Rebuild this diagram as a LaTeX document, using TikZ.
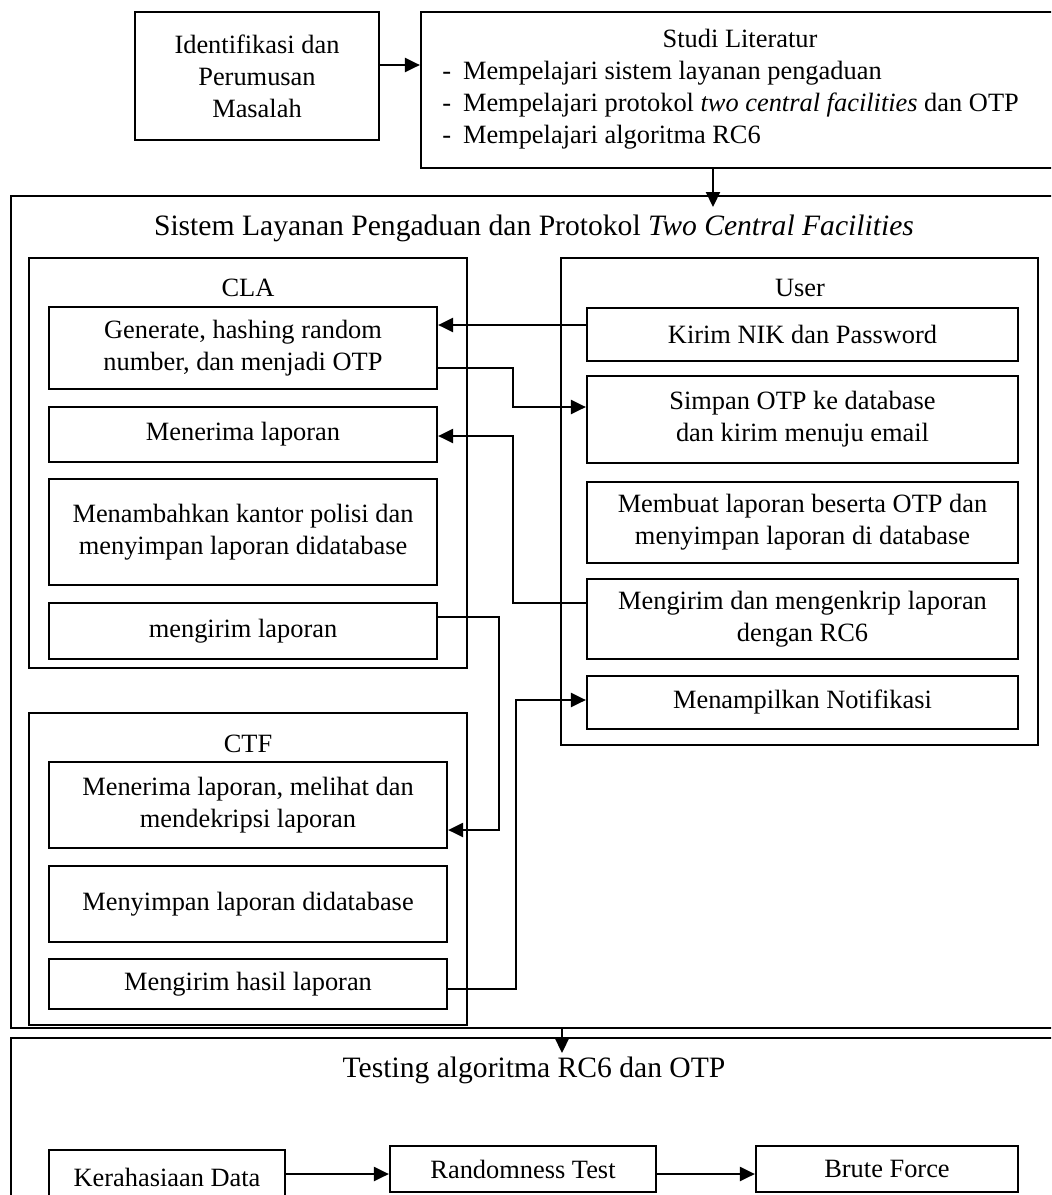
\documentclass[tikz,border=0pt]{standalone}
\usepackage{fontspec}
\setmainfont{Liberation Serif}
\usetikzlibrary{arrows.meta}
\begin{document}
\begin{tikzpicture}[x=0.5pt,y=-0.5pt,
  txt/.style={font=\fontsize{13.2}{16}\selectfont},
  bigtxt/.style={font=\fontsize{14.8}{18}\selectfont},
  % rectangle given by its corners (x1,y1) and (x2,y2)
  spot/.style n args={4}{minimum width={(#3-#1)*0.5pt}, minimum height={(#4-#2)*0.5pt},
    at={({(#1+#3)/2},{(#2+#4)/2})}},
  box/.style={draw, line width=1.1pt, inner sep=0pt, align=center, txt},
  frame/.style={draw, line width=1.1pt, inner sep=0pt},
  lbl/.style={txt, inner sep=0pt, anchor=base},
  arr/.style={line width=1.1pt, -{Triangle[length=7.5pt,width=7pt]}}]

\useasboundingbox (0,0) rectangle (1051,1195);
\clip (0,0) rectangle (1051,1195);

% --- problem statement and literature study ---
\node[box, spot={135}{12}{379}{140}] (ident) {Identifikasi dan\\Perumusan\\Masalah};
\node[frame, spot={421}{12}{1070}{168}] (studi) {};
\node[lbl] (studiT) at (740,47) {Studi Literatur};
\node[lbl, anchor=base west] (studiA) at (442,79) {-\hspace{0.45em}Mempelajari sistem layanan pengaduan};
\node[lbl, anchor=base west] (studiB) at (442,111) {-\hspace{0.45em}Mempelajari protokol \textit{two central facilities} dan OTP};
\node[lbl, anchor=base west] (studiC) at (442,143) {-\hspace{0.45em}Mempelajari algoritma RC6};
\draw[arr] (ident.east |- 0,65) -- (studi.west |- 0,65);

% --- complaint system with two central facilities ---
\node[frame, spot={11}{196}{1070}{1028}] (sistem) {};
\node[lbl, bigtxt] (sistemT) at (534,235) {Sistem Layanan Pengaduan dan Protokol \textit{Two Central Facilities}};
\coordinate (sistemIn) at (713,207);
\draw[arr] (studi.south -| sistemIn) -- (sistemIn);

% CLA
\node[frame, spot={29}{258}{467}{668}] (cla) {};
\node[lbl] (claT) at (248,296) {CLA};
\node[box, spot={49}{307}{437}{389}] (gen) {Generate, hashing random\\number, dan menjadi OTP};
\node[box, spot={49}{407}{437}{462}] (terima) {Menerima laporan};
\node[box, spot={49}{479}{437}{585}] (tambah) {Menambahkan kantor polisi dan\\menyimpan laporan didatabase};
\node[box, spot={49}{603}{437}{659}] (kirimLap) {mengirim laporan};

% User
\node[frame, spot={561}{258}{1038}{745}] (user) {};
\node[lbl] (userT) at (800,296) {User};
\node[box, spot={587}{308}{1018}{361}] (nik) {Kirim NIK dan Password};
\node[box, spot={587}{376}{1018}{463}] (simpan) {Simpan OTP ke database\\dan kirim menuju email};
\node[box, spot={587}{482}{1018}{563}] (buat) {Membuat laporan beserta OTP dan\\menyimpan laporan di database};
\node[box, spot={587}{579}{1018}{659}] (enkrip) {Mengirim dan mengenkrip laporan\\dengan RC6};
\node[box, spot={587}{676}{1018}{729}] (notif) {Menampilkan Notifikasi};

% CTF
\node[frame, spot={29}{713}{467}{1025}] (ctf) {};
\node[lbl] (ctfT) at (248,752) {CTF};
\node[box, spot={49}{762}{447}{848}] (dekrip) {Menerima laporan, melihat dan\\mendekripsi laporan};
\node[box, spot={49}{866}{447}{942}] (simpanCtf) {Menyimpan laporan didatabase};
\node[box, spot={49}{959}{447}{1009}] (hasil) {Mengirim hasil laporan};

% message flow between the parties
\draw[arr] (nik.west |- 0,325) -- (gen.east |- 0,325);
\draw[arr] (gen.east |- 0,368) -- (513,368) -- (513,407) -- (simpan.west |- 0,407);
\draw[arr] (enkrip.west |- 0,603) -- (513,603) -- (513,436) -- (terima.east |- 0,436);
\draw[arr] (kirimLap.east |- 0,617) -- (499,617) -- (499,830) -- (dekrip.east |- 0,830);
\draw[arr] (hasil.east |- 0,989) -- (516,989) -- (516,700) -- (notif.west |- 0,700);

% --- testing ---
\node[frame, spot={11}{1038}{1070}{1210}] (testing) {};
\node[lbl, bigtxt] (testingT) at (534,1077) {Testing algoritma RC6 dan OTP};
\coordinate (testIn) at (562,1053);
\draw[arr] (sistem.south -| testIn) -- (testIn);
\node[box, spot={49}{1150}{285}{1204}] (kera) {Kerahasiaan Data};
\node[box, spot={390}{1146}{656}{1192}] (rand) {Randomness Test};
\node[box, spot={756}{1146}{1018}{1192}] (brute) {Brute Force};
\draw[arr] (kera.east |- 0,1174) -- (rand.west |- 0,1174);
\draw[arr] (rand.east |- 0,1174) -- (brute.west |- 0,1174);
\end{tikzpicture}
\end{document}
